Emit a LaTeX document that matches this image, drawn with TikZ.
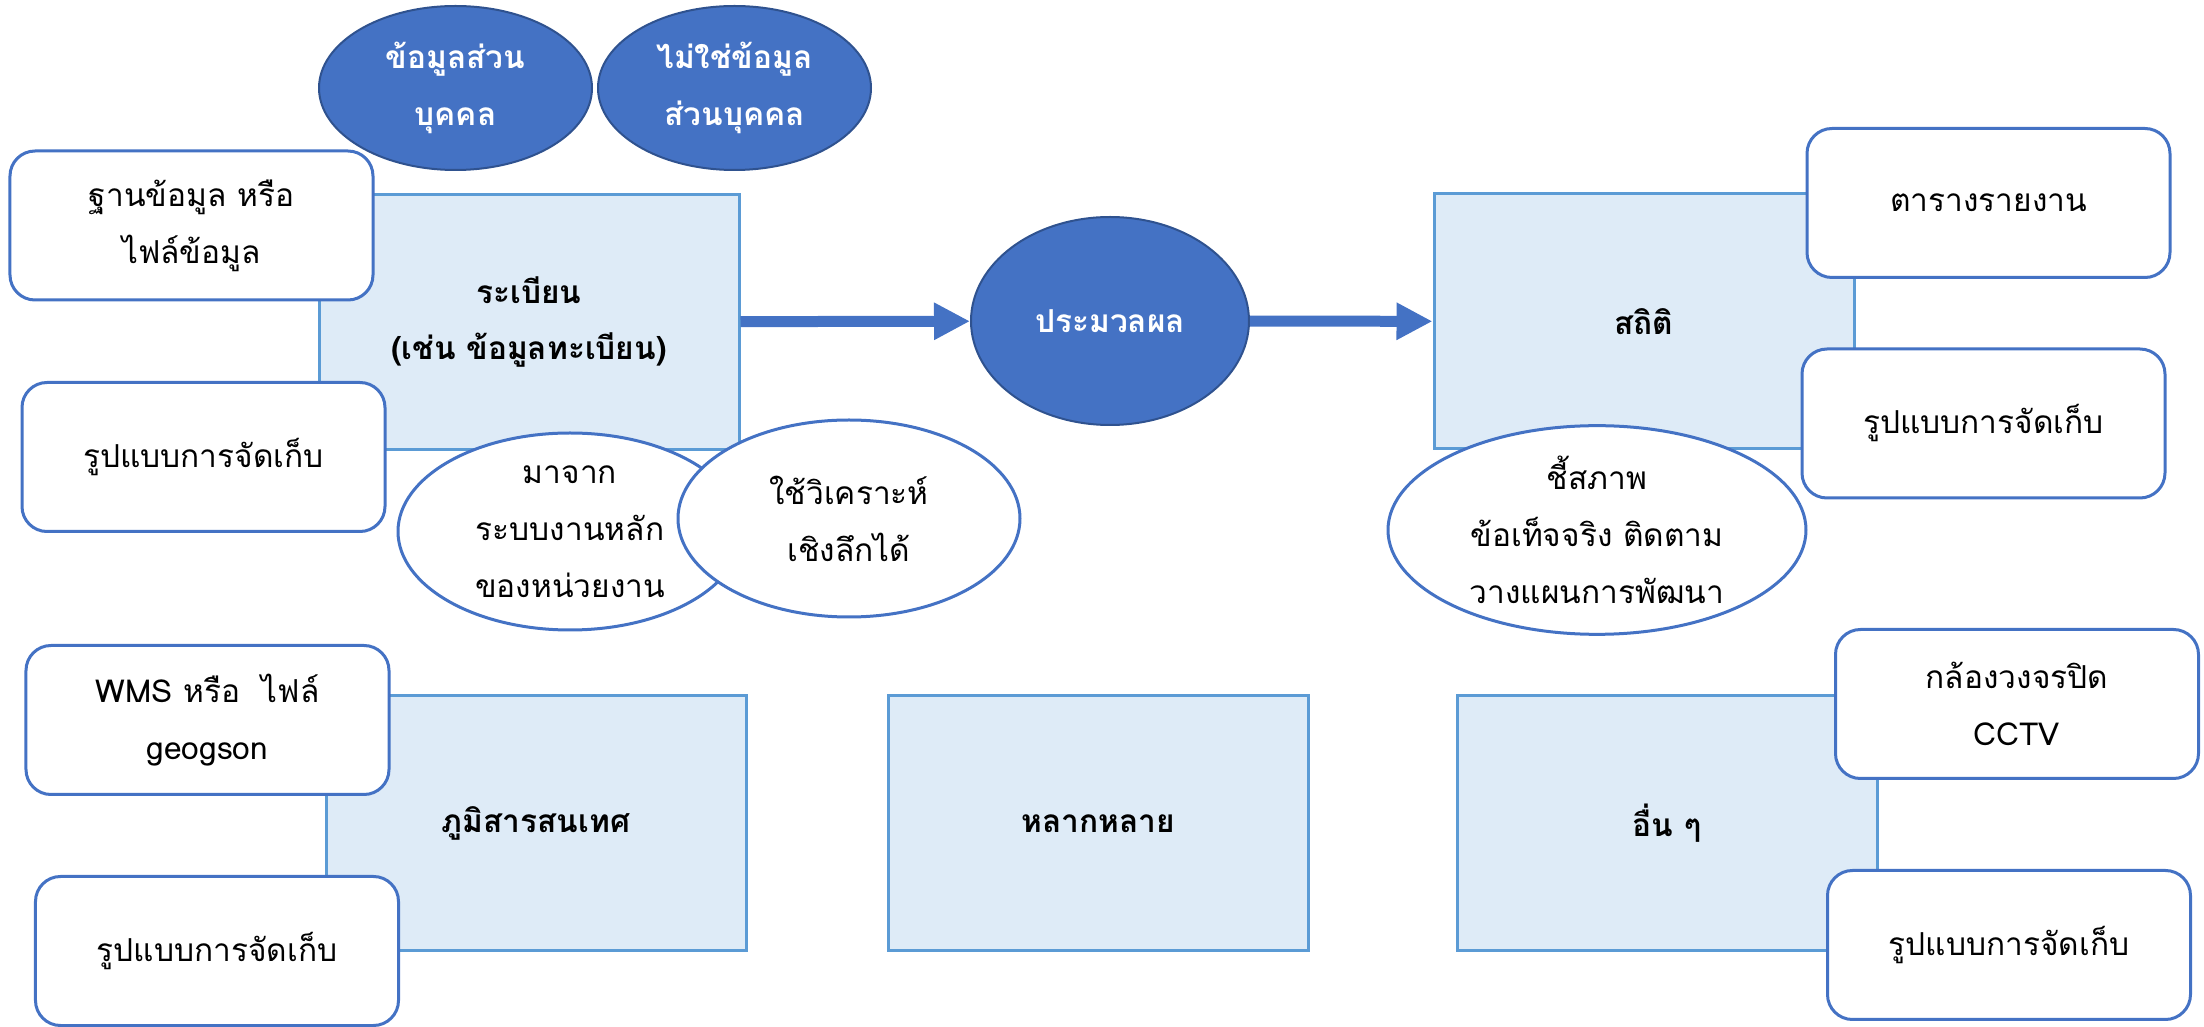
\documentclass[tikz,border=0pt]{standalone}
\usepackage{fontspec}
\setmainfont[Script=Thai]{Loma}
\usetikzlibrary{shapes.geometric,arrows.meta}
\definecolor{officeblue}{HTML}{4472C4}
\definecolor{darkblue}{HTML}{2F528F}
\definecolor{paleblue}{HTML}{DEEBF7}
\definecolor{edgeblue}{HTML}{5B9BD5}
\begin{document}
\begin{tikzpicture}[
    txt/.style={font=\fontsize{9}{16.2}\selectfont, align=center, inner sep=0pt},
    datatype/.style={txt, draw=edgeblue, fill=paleblue, line width=0.3mm, minimum width=4.2cm, minimum height=2.55cm, font=\fontsize{9}{16.2}\selectfont\bfseries},
    note/.style={txt, draw=officeblue, fill=white, line width=0.3mm, rounded corners=2.5mm, minimum width=3.63cm, minimum height=1.49cm},
    whiteoval/.style={txt, ellipse, draw=officeblue, fill=white, line width=0.3mm},
    blueoval/.style={txt, ellipse, draw=darkblue, fill=officeblue, line width=0.2mm, text=white, font=\fontsize{9}{16.2}\selectfont\bfseries},
    flow/.style={officeblue, line width=1.1mm, -{Triangle[length=3.6mm, width=3.5mm]}}
]
    \useasboundingbox (0,0) rectangle (22.04,10.27);

    % data types
    \node[datatype] (reg) at (5.29,7.05) {ระเบียน\\(เช่น ข้อมูลทะเบียน)};
    \node[datatype] (stat) at (16.44,7.055) {สถิติ};
    \node[datatype] (geo) at (5.36,2.035) {ภูมิสารสนเทศ};
    \node[datatype] (misc) at (10.98,2.035) {หลากหลาย};
    \node[datatype] (other) at (16.67,2.035) {อื่น ๆ};

    % storage notes
    \node[note] (dbfile) at (1.915,8.015) {ฐานข้อมูล หรือ\\ไฟล์ข้อมูล};
    \node[note] (storeA) at (2.035,5.70) {รูปแบบการจัดเก็บ};
    \node[note] (report) at (19.885,8.24) {ตารางรายงาน};
    \node[note] (storeB) at (19.835,6.035) {รูปแบบการจัดเก็บ};
    \node[note] (wms) at (2.075,3.07) {WMS หรือ~~ไฟล์\\geogson};
    \node[note] (storeC) at (2.17,0.76) {รูปแบบการจัดเก็บ};
    \node[note] (cctv) at (20.17,3.23) {กล้องวงจรปิด\\CCTV};
    \node[note] (storeD) at (20.09,0.82) {รูปแบบการจัดเก็บ};

    % remarks
    \node[whiteoval, minimum width=3.44cm, minimum height=1.97cm] (source) at (5.70,4.955) {มาจาก\\ระบบงานหลัก\\ของหน่วยงาน};
    \node[whiteoval, minimum width=3.42cm, minimum height=1.97cm] (insight) at (8.49,5.085) {ใช้วิเคราะห์\\เชิงลึกได้};
    \node[whiteoval, minimum width=4.18cm, minimum height=1.96cm] (indic) at (15.97,4.97) {ชี้สภาพ\\ข้อเท็จจริง ติดตาม\\วางแผนการพัฒนา};

    \node[blueoval, minimum width=2.73cm, minimum height=1.64cm] (personal) at (4.555,9.39) {ข้อมูลส่วน\\บุคคล};
    \node[blueoval, minimum width=2.73cm, minimum height=1.64cm] (nonpersonal) at (7.345,9.39) {ไม่ใช่ข้อมูล\\ส่วนบุคคล};
    \node[blueoval, minimum width=2.78cm, minimum height=2.08cm] (proc) at (11.10,7.06) {ประมวลผล};

    \draw[flow] (reg) -- (proc);
    \draw[flow] (proc) -- (stat);
\end{tikzpicture}
\end{document}
